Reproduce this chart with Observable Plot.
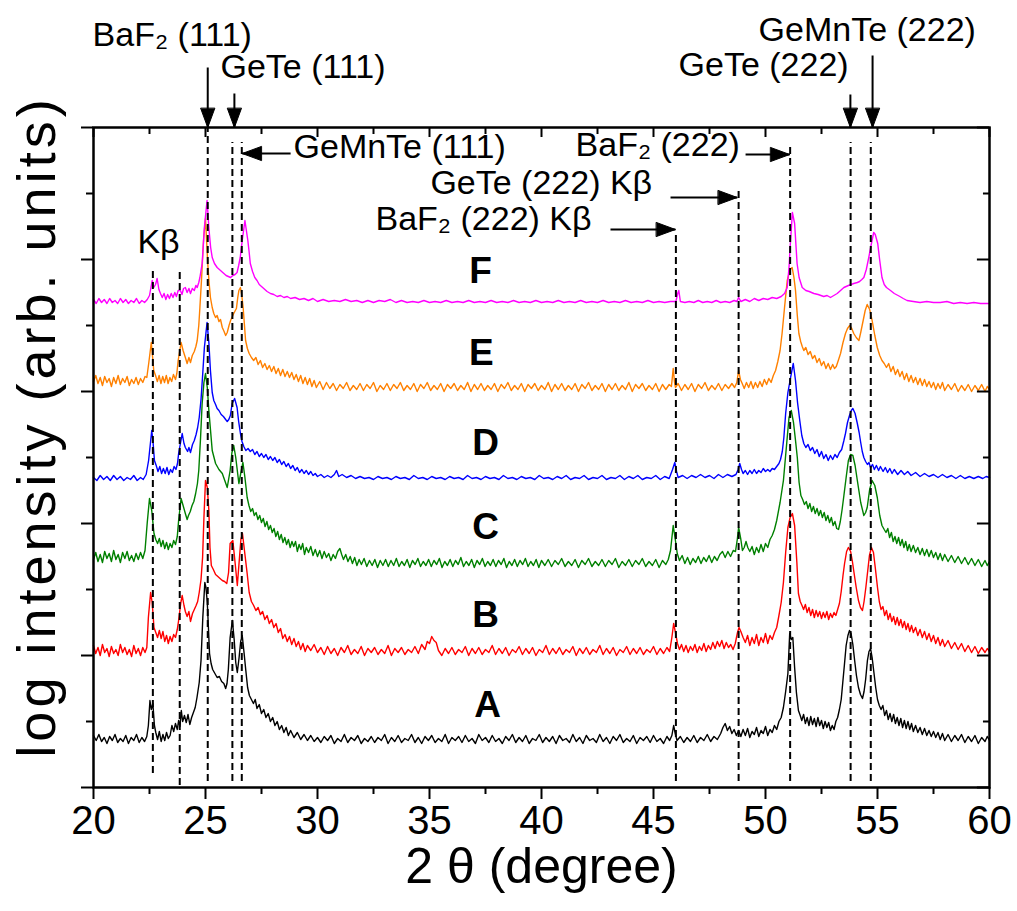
<!DOCTYPE html>
<html><head><meta charset="utf-8">
<script src="https://cdn.jsdelivr.net/npm/d3@7"></script>
<script src="https://cdn.jsdelivr.net/npm/@observablehq/plot@0.6"></script>
<style>body{margin:0;background:#fff;}</style>
</head><body><div id="chart"></div>
<script>
// ---- data (x = 2θ in degrees, y = log intensity, arbitrary offset units) ----
const xMajor = [20,25,30,35,40,45,50,55,60];
const xMinor = [22.5,27.5,32.5,37.5,42.5,47.5,52.5,57.5];
const yMajor = [0,132,264,396,528,660];
const yMinor = [66,198,330,462,594];

const sampleNames = ["A","B","C","D","E","F"];
const sampleColors = ["#000000","#ff0000","#008000","#0000ff","#ff8000","#ff00ff"];
const sampleLabelX = [37.59,37.5,37.5,37.5,37.32,37.28];
const sampleLabelY = [82,172,260,344,434,516];

const traceA = [[20.0,52],[20.12,47],[20.24,53],[20.36,46],[20.48,50],[20.6,44],[20.72,51],[20.84,47],[20.96,53],[21.08,45],[21.2,49],[21.32,46],[21.44,52],[21.56,44],[21.68,50],[21.8,47],[21.92,53],[22.04,45],[22.16,50],[22.28,46],[22.38,51],[22.45,62],[22.52,87],[22.58,78],[22.65,84],[22.72,62],[22.78,55],[22.86,48],[22.94,56],[23.02,46],[23.1,53],[23.18,47],[23.26,55],[23.34,49],[23.42,52],[23.5,62],[23.58,56],[23.66,64],[23.74,58],[23.8,67],[23.86,61],[23.92,77],[23.98,66],[24.06,72],[24.14,65],[24.22,73],[24.3,63],[24.38,70],[24.46,75],[24.54,80],[24.62,90],[24.72,105],[24.8,127],[24.88,170],[24.97,205],[25.02,200],[25.08,185],[25.13,160],[25.18,134],[25.25,124],[25.32,118],[25.42,114],[25.52,110],[25.62,111],[25.72,106],[25.82,104],[25.9,99],[25.96,104],[26.02,118],[26.1,150],[26.2,167],[26.28,148],[26.35,125],[26.42,115],[26.5,130],[26.57,146],[26.64,152],[26.72,135],[26.8,117],[26.88,100],[26.96,92],[27.05,88],[27.14,84],[27.22,88],[27.3,79],[27.4,83],[27.5,74],[27.6,78],[27.7,70],[27.8,74],[27.9,66],[28.0,70],[28.1,62],[28.2,66],[28.3,58],[28.4,62],[28.5,55],[28.6,60],[28.7,52],[28.8,57],[28.95,50],[29.1,55],[29.25,48],[29.4,53],[29.55,47],[29.7,52],[29.85,46],[30.0,50],[30.15,45],[30.3,51],[30.45,47],[30.6,52],[30.75,44],[30.9,49],[31.05,46],[31.2,53],[31.35,45],[31.5,50],[31.65,47],[31.8,52],[31.95,44],[32.1,49],[32.25,46],[32.4,51],[32.55,45],[32.7,50],[32.85,47],[33.0,53],[33.15,44],[33.3,50],[33.45,46],[33.6,52],[33.75,45],[33.9,49],[34.05,47],[34.2,53],[34.35,45],[34.5,50],[34.65,44],[34.8,51],[34.95,47],[35.1,52],[35.25,45],[35.4,49],[35.55,46],[35.7,53],[35.85,44],[36.0,50],[36.15,47],[36.3,51],[36.45,45],[36.6,52],[36.75,46],[36.9,49],[37.05,44],[37.2,53],[37.35,47],[37.5,50],[37.65,45],[37.8,52],[37.95,46],[38.1,49],[38.25,44],[38.4,51],[38.55,47],[38.7,53],[38.85,45],[39.0,50],[39.15,46],[39.3,52],[39.45,44],[39.6,49],[39.75,47],[39.9,53],[40.05,45],[40.2,50],[40.35,46],[40.5,51],[40.65,44],[40.8,52],[40.95,47],[41.1,49],[41.25,45],[41.4,53],[41.55,46],[41.7,50],[41.85,44],[42.0,52],[42.15,47],[42.3,49],[42.45,45],[42.6,53],[42.75,46],[42.9,50],[43.05,44],[43.2,51],[43.35,47],[43.5,53],[43.65,45],[43.8,49],[43.95,46],[44.1,52],[44.25,44],[44.4,50],[44.55,47],[44.7,51],[44.85,45],[45.0,52],[45.15,46],[45.3,49],[45.45,44],[45.6,51],[45.72,47],[45.82,52],[45.9,62],[45.97,54],[46.05,47],[46.2,51],[46.35,45],[46.5,50],[46.65,46],[46.8,52],[46.95,45],[47.1,50],[47.25,47],[47.4,53],[47.55,46],[47.7,51],[47.85,48],[48.0,54],[48.1,60],[48.2,64],[48.3,57],[48.4,61],[48.5,54],[48.6,58],[48.7,52],[48.8,57],[48.9,51],[49.0,58],[49.1,52],[49.2,59],[49.3,50],[49.4,56],[49.5,53],[49.6,60],[49.7,51],[49.8,57],[49.9,54],[50.0,61],[50.1,52],[50.2,58],[50.3,55],[50.4,62],[50.5,58],[50.6,66],[50.7,70],[50.8,80],[50.9,96],[51.0,114],[51.08,154],[51.15,148],[51.22,150],[51.3,120],[51.38,95],[51.47,77],[51.55,72],[51.62,67],[51.7,73],[51.78,64],[51.86,70],[51.94,62],[52.02,71],[52.1,63],[52.18,69],[52.26,61],[52.34,70],[52.42,62],[52.5,67],[52.58,59],[52.66,66],[52.74,60],[52.82,65],[52.9,57],[52.98,62],[53.06,58],[53.14,66],[53.22,70],[53.3,78],[53.38,88],[53.45,105],[53.52,122],[53.6,142],[53.68,152],[53.75,157],[53.82,154],[53.9,143],[53.98,127],[54.06,112],[54.15,100],[54.24,93],[54.33,89],[54.4,96],[54.47,108],[54.55,127],[54.62,136],[54.69,139],[54.76,130],[54.84,115],[54.92,100],[55.0,88],[55.08,82],[55.16,78],[55.24,82],[55.32,72],[55.4,77],[55.48,68],[55.56,74],[55.64,66],[55.72,73],[55.8,64],[55.88,70],[55.96,62],[56.04,69],[56.12,60],[56.2,67],[56.28,59],[56.36,66],[56.44,58],[56.52,64],[56.6,56],[56.7,62],[56.8,55],[56.9,60],[57.0,53],[57.1,59],[57.2,52],[57.3,57],[57.4,51],[57.5,56],[57.6,50],[57.7,55],[57.8,48],[57.9,54],[58.0,47],[58.15,53],[58.3,46],[58.45,52],[58.6,47],[58.75,53],[58.9,45],[59.05,51],[59.2,46],[59.35,52],[59.5,44],[59.65,50],[59.8,46],[59.9,51],[60.0,47]];

const traceB = [[20.0,142],[20.1,134],[20.2,140],[20.3,132],[20.4,143],[20.5,135],[20.6,139],[20.7,131],[20.8,141],[20.9,134],[21.0,138],[21.1,132],[21.2,143],[21.3,135],[21.4,140],[21.5,133],[21.6,138],[21.7,131],[21.8,142],[21.9,134],[22.0,139],[22.1,132],[22.2,140],[22.3,135],[22.38,140],[22.45,170],[22.55,195],[22.62,185],[22.7,160],[22.78,155],[22.86,150],[22.94,157],[23.02,149],[23.1,156],[23.18,146],[23.26,152],[23.34,144],[23.42,151],[23.5,146],[23.58,153],[23.66,150],[23.74,158],[23.8,167],[23.9,185],[23.96,192],[24.04,182],[24.1,176],[24.18,171],[24.26,176],[24.33,166],[24.42,174],[24.5,178],[24.58,182],[24.65,186],[24.72,195],[24.8,208],[24.87,230],[24.93,270],[25.0,307],[25.08,300],[25.15,277],[25.2,240],[25.26,222],[25.35,218],[25.45,213],[25.55,211],[25.65,209],[25.75,207],[25.85,206],[25.95,204],[26.03,215],[26.1,244],[26.22,247],[26.32,225],[26.42,202],[26.5,225],[26.58,248],[26.65,254],[26.75,235],[26.86,214],[26.95,195],[27.05,186],[27.15,182],[27.25,177],[27.35,180],[27.45,173],[27.55,176],[27.65,168],[27.75,172],[27.85,164],[27.95,168],[28.05,160],[28.15,164],[28.25,155],[28.35,159],[28.45,149],[28.55,153],[28.65,146],[28.75,151],[28.85,143],[28.95,149],[29.05,141],[29.15,146],[29.25,138],[29.35,144],[29.45,136],[29.55,142],[29.7,137],[29.85,143],[30.0,135],[30.15,140],[30.3,133],[30.45,141],[30.6,134],[30.75,139],[30.9,132],[31.05,140],[31.2,135],[31.35,142],[31.5,133],[31.65,138],[31.8,134],[31.95,141],[32.1,132],[32.25,139],[32.4,135],[32.55,140],[32.7,133],[32.85,138],[33.0,134],[33.15,142],[33.3,132],[33.45,139],[33.6,135],[33.75,140],[33.9,133],[34.05,138],[34.2,135],[34.35,141],[34.5,134],[34.65,143],[34.8,138],[34.9,146],[35.0,144],[35.1,151],[35.2,147],[35.3,145],[35.4,137],[35.55,132],[35.7,139],[35.85,134],[36.0,140],[36.15,133],[36.3,138],[36.45,135],[36.6,141],[36.75,132],[36.9,139],[37.05,134],[37.2,140],[37.35,133],[37.5,138],[37.65,135],[37.8,142],[37.95,133],[38.1,139],[38.25,134],[38.4,140],[38.55,132],[38.7,138],[38.85,135],[39.0,141],[39.15,133],[39.3,139],[39.45,134],[39.6,140],[39.75,132],[39.9,138],[40.05,135],[40.2,142],[40.35,133],[40.5,139],[40.65,134],[40.8,140],[40.95,133],[41.1,138],[41.25,135],[41.4,141],[41.55,132],[41.7,139],[41.85,134],[42.0,140],[42.15,133],[42.3,138],[42.45,135],[42.6,142],[42.75,133],[42.9,139],[43.05,134],[43.2,140],[43.35,132],[43.5,138],[43.65,135],[43.8,141],[43.95,133],[44.1,139],[44.25,134],[44.4,140],[44.55,133],[44.7,138],[44.85,135],[45.0,141],[45.15,133],[45.3,139],[45.45,134],[45.6,140],[45.72,136],[45.82,150],[45.9,164],[45.98,155],[46.07,144],[46.16,138],[46.25,143],[46.35,136],[46.45,142],[46.55,135],[46.65,141],[46.75,137],[46.85,143],[46.95,135],[47.05,141],[47.15,137],[47.25,144],[47.35,136],[47.45,142],[47.55,138],[47.65,145],[47.75,139],[47.85,146],[47.95,141],[48.05,147],[48.15,139],[48.25,145],[48.35,140],[48.45,143],[48.55,138],[48.65,144],[48.75,155],[48.82,160],[48.9,156],[49.0,150],[49.1,145],[49.2,152],[49.3,142],[49.4,150],[49.5,144],[49.6,153],[49.7,142],[49.8,150],[49.9,145],[50.0,154],[50.1,144],[50.2,152],[50.3,148],[50.4,155],[50.5,160],[50.6,172],[50.7,185],[50.8,205],[50.9,235],[51.0,260],[51.1,270],[51.2,274],[51.3,262],[51.4,225],[51.47,194],[51.55,186],[51.63,182],[51.7,178],[51.78,183],[51.86,175],[51.94,180],[52.02,172],[52.1,178],[52.18,170],[52.26,177],[52.34,171],[52.42,176],[52.5,169],[52.58,175],[52.66,170],[52.74,176],[52.82,168],[52.9,174],[52.98,170],[53.06,175],[53.14,172],[53.22,178],[53.3,184],[53.38,196],[53.46,212],[53.53,224],[53.62,236],[53.7,240],[53.8,236],[53.88,226],[53.95,215],[54.05,200],[54.15,187],[54.24,180],[54.33,177],[54.4,186],[54.48,200],[54.55,214],[54.64,232],[54.73,240],[54.82,235],[54.9,220],[55.0,200],[55.08,186],[55.16,178],[55.24,181],[55.32,172],[55.4,177],[55.48,168],[55.56,174],[55.64,166],[55.72,171],[55.8,163],[55.88,170],[55.96,162],[56.04,168],[56.12,160],[56.2,166],[56.28,158],[56.36,164],[56.44,156],[56.52,162],[56.6,155],[56.7,160],[56.8,152],[56.9,158],[57.0,150],[57.1,156],[57.2,148],[57.3,154],[57.4,146],[57.5,152],[57.6,144],[57.7,150],[57.8,142],[57.9,148],[58.0,141],[58.15,147],[58.3,139],[58.45,145],[58.6,138],[58.75,144],[58.9,136],[59.05,142],[59.2,135],[59.35,141],[59.5,134],[59.65,140],[59.8,135],[59.9,139],[60.0,136]];

const traceC = [[20.0,228],[20.1,235],[20.2,226],[20.3,233],[20.4,225],[20.5,236],[20.6,229],[20.7,234],[20.8,226],[20.9,237],[21.0,228],[21.1,233],[21.2,225],[21.3,235],[21.4,229],[21.5,236],[21.6,227],[21.7,232],[21.8,226],[21.9,234],[22.0,228],[22.1,235],[22.2,229],[22.3,237],[22.4,265],[22.5,289],[22.6,277],[22.7,254],[22.78,248],[22.86,244],[22.94,249],[23.02,241],[23.1,247],[23.18,239],[23.26,245],[23.34,238],[23.42,244],[23.5,240],[23.58,247],[23.66,243],[23.74,251],[23.8,267],[23.91,289],[24.0,282],[24.1,274],[24.18,268],[24.24,272],[24.32,276],[24.4,282],[24.48,286],[24.56,294],[24.64,304],[24.7,317],[24.78,350],[24.85,384],[24.93,405],[25.0,414],[25.08,400],[25.15,377],[25.3,337],[25.45,324],[25.6,318],[25.75,314],[25.97,300],[26.1,317],[26.18,335],[26.26,342],[26.35,330],[26.49,304],[26.58,315],[26.67,325],[26.76,310],[26.86,290],[26.94,282],[27.02,276],[27.1,279],[27.18,272],[27.26,275],[27.34,268],[27.42,272],[27.5,265],[27.58,269],[27.66,261],[27.74,266],[27.82,258],[27.9,262],[27.98,255],[28.06,259],[28.14,251],[28.22,256],[28.3,248],[28.38,253],[28.46,245],[28.54,250],[28.62,243],[28.7,248],[28.78,240],[28.86,246],[28.94,241],[29.02,246],[29.1,236],[29.18,243],[29.26,238],[29.34,244],[29.42,233],[29.5,240],[29.6,235],[29.7,241],[29.8,232],[29.9,238],[30.0,231],[30.1,237],[30.2,229],[30.3,236],[30.4,230],[30.5,234],[30.6,227],[30.7,233],[30.8,229],[30.9,236],[31.0,239],[31.08,233],[31.16,228],[31.26,233],[31.36,226],[31.46,231],[31.56,224],[31.66,230],[31.76,222],[31.86,228],[31.96,223],[32.08,229],[32.2,221],[32.32,227],[32.44,222],[32.56,228],[32.68,220],[32.8,227],[32.92,222],[33.04,228],[33.16,221],[33.28,227],[33.4,222],[33.52,229],[33.64,221],[33.76,226],[33.88,222],[34.0,228],[34.12,220],[34.24,227],[34.36,223],[34.48,229],[34.6,221],[34.72,226],[34.84,222],[34.96,228],[35.08,221],[35.2,227],[35.32,223],[35.44,229],[35.56,220],[35.68,226],[35.8,222],[35.92,228],[36.04,221],[36.16,227],[36.28,223],[36.4,230],[36.52,221],[36.64,226],[36.76,222],[36.88,228],[37.0,220],[37.12,227],[37.24,223],[37.36,229],[37.48,221],[37.6,226],[37.72,222],[37.84,228],[37.96,221],[38.08,227],[38.2,223],[38.32,229],[38.44,220],[38.56,226],[38.68,222],[38.8,228],[38.92,221],[39.04,227],[39.16,223],[39.28,229],[39.4,221],[39.52,226],[39.64,222],[39.76,228],[39.88,220],[40.0,227],[40.15,222],[40.3,228],[40.45,221],[40.6,227],[40.75,223],[40.9,229],[41.05,221],[41.2,226],[41.35,222],[41.5,228],[41.65,220],[41.8,227],[41.95,223],[42.1,229],[42.25,221],[42.4,226],[42.55,222],[42.7,228],[42.85,221],[43.0,227],[43.15,223],[43.3,229],[43.45,220],[43.6,226],[43.75,222],[43.9,228],[44.05,221],[44.2,227],[44.35,223],[44.5,229],[44.65,221],[44.8,226],[44.95,222],[45.1,228],[45.25,220],[45.4,227],[45.55,223],[45.66,228],[45.76,237],[45.88,262],[45.96,250],[46.06,234],[46.16,227],[46.28,232],[46.4,224],[46.52,230],[46.64,223],[46.76,229],[46.88,225],[47.0,231],[47.12,224],[47.24,230],[47.36,226],[47.48,232],[47.6,225],[47.72,231],[47.84,227],[47.96,233],[48.08,236],[48.2,230],[48.32,236],[48.44,231],[48.56,237],[48.66,236],[48.74,248],[48.8,260],[48.9,248],[48.97,237],[49.05,240],[49.13,246],[49.21,240],[49.3,236],[49.4,241],[49.5,233],[49.6,240],[49.7,235],[49.8,243],[49.9,236],[50.0,244],[50.1,240],[50.2,248],[50.3,252],[50.4,258],[50.5,267],[50.65,285],[50.8,307],[50.95,345],[51.05,370],[51.15,377],[51.25,365],[51.34,347],[51.42,330],[51.5,305],[51.58,292],[51.66,288],[51.74,283],[51.82,286],[51.9,279],[51.98,284],[52.06,276],[52.14,281],[52.22,274],[52.3,279],[52.38,272],[52.46,277],[52.54,270],[52.62,275],[52.7,267],[52.78,272],[52.86,265],[52.94,270],[53.02,262],[53.1,266],[53.18,259],[53.26,258],[53.34,266],[53.42,278],[53.5,292],[53.6,310],[53.7,327],[53.8,333],[53.9,332],[54.0,322],[54.1,307],[54.25,285],[54.39,272],[54.47,275],[54.54,280],[54.65,298],[54.76,307],[54.88,302],[54.99,290],[55.1,272],[55.2,262],[55.3,258],[55.38,255],[55.46,259],[55.54,250],[55.62,255],[55.7,246],[55.78,251],[55.86,244],[55.94,250],[56.02,242],[56.1,248],[56.18,240],[56.26,246],[56.34,237],[56.42,243],[56.5,236],[56.6,242],[56.7,235],[56.8,240],[56.9,233],[57.0,239],[57.1,232],[57.2,238],[57.3,231],[57.4,237],[57.5,230],[57.6,235],[57.7,228],[57.8,234],[57.9,227],[58.0,233],[58.15,226],[58.3,232],[58.45,225],[58.6,231],[58.75,224],[58.9,230],[59.05,223],[59.2,229],[59.35,222],[59.5,228],[59.65,221],[59.8,227],[59.9,222],[60.0,226]];

const traceD = [[20.0,310],[20.15,307],[20.3,312],[20.45,308],[20.6,311],[20.75,307],[20.9,312],[21.05,308],[21.2,311],[21.35,307],[21.5,310],[21.65,308],[21.8,312],[21.95,307],[22.1,310],[22.22,308],[22.35,313],[22.46,327],[22.6,357],[22.66,345],[22.72,327],[22.8,322],[22.88,316],[22.96,321],[23.04,314],[23.12,319],[23.2,314],[23.28,320],[23.36,313],[23.44,318],[23.52,315],[23.6,321],[23.68,318],[23.75,324],[23.8,334],[23.96,354],[24.04,344],[24.1,340],[24.2,336],[24.26,340],[24.33,335],[24.42,343],[24.5,347],[24.58,353],[24.65,360],[24.72,370],[24.8,388],[24.88,415],[24.95,440],[25.07,465],[25.15,445],[25.22,417],[25.3,395],[25.37,387],[25.45,383],[25.52,379],[25.6,377],[25.7,373],[25.8,371],[25.9,368],[25.97,366],[26.04,368],[26.11,372],[26.19,384],[26.3,389],[26.41,380],[26.48,366],[26.56,354],[26.63,346],[26.71,341],[26.8,337],[26.9,339],[27.0,336],[27.1,338],[27.2,333],[27.3,336],[27.4,331],[27.5,334],[27.6,330],[27.7,333],[27.8,328],[27.9,331],[28.0,327],[28.1,330],[28.2,325],[28.3,328],[28.4,323],[28.5,326],[28.6,321],[28.7,324],[28.8,319],[28.9,322],[29.0,317],[29.1,320],[29.2,315],[29.3,318],[29.4,314],[29.5,317],[29.6,313],[29.7,316],[29.8,312],[29.9,314],[30.0,311],[30.15,313],[30.3,310],[30.45,312],[30.6,310],[30.75,313],[30.85,317],[30.95,311],[31.1,313],[31.3,310],[31.5,312],[31.7,309],[31.9,311],[32.1,309],[32.3,310],[32.5,308],[32.7,311],[32.9,309],[33.1,310],[33.3,308],[33.5,311],[33.7,309],[33.9,310],[34.1,308],[34.3,312],[34.5,309],[34.7,310],[34.9,308],[35.1,311],[35.3,309],[35.5,310],[35.7,308],[35.9,311],[36.1,309],[36.3,310],[36.5,308],[36.7,312],[36.9,309],[37.1,310],[37.3,308],[37.5,311],[37.7,309],[37.9,310],[38.1,308],[38.3,312],[38.5,309],[38.7,310],[38.9,308],[39.1,311],[39.3,309],[39.5,310],[39.7,308],[39.9,312],[40.1,309],[40.3,310],[40.5,308],[40.7,311],[40.9,309],[41.1,312],[41.3,308],[41.5,310],[41.7,309],[41.9,312],[42.1,308],[42.3,310],[42.5,309],[42.7,312],[42.9,308],[43.1,310],[43.3,309],[43.5,312],[43.7,308],[43.9,311],[44.1,309],[44.3,312],[44.5,308],[44.7,310],[44.9,309],[45.1,312],[45.3,308],[45.5,311],[45.7,309],[45.85,318],[45.95,325],[46.03,316],[46.1,310],[46.3,312],[46.5,309],[46.7,312],[46.9,310],[47.1,313],[47.3,310],[47.5,312],[47.7,309],[47.9,313],[48.1,310],[48.3,313],[48.5,311],[48.68,313],[48.78,318],[48.85,324],[48.93,318],[49.0,314],[49.1,317],[49.2,313],[49.3,317],[49.4,314],[49.5,318],[49.6,314],[49.7,317],[49.8,315],[49.9,319],[50.0,316],[50.1,318],[50.2,316],[50.3,319],[50.4,318],[50.5,321],[50.6,324],[50.67,328],[50.75,336],[50.82,350],[50.9,374],[51.0,395],[51.12,410],[51.24,424],[51.34,407],[51.43,385],[51.53,367],[51.62,352],[51.71,344],[51.8,340],[51.9,343],[52.0,337],[52.1,340],[52.2,334],[52.3,338],[52.4,331],[52.5,336],[52.6,329],[52.7,333],[52.8,327],[52.9,332],[53.0,328],[53.1,333],[53.2,330],[53.3,335],[53.4,338],[53.5,347],[53.57,354],[53.66,365],[53.75,372],[53.83,377],[53.9,379],[54.0,374],[54.1,364],[54.18,355],[54.25,345],[54.32,336],[54.39,330],[54.47,326],[54.55,323],[54.62,325],[54.69,320],[54.78,323],[54.86,318],[54.95,322],[55.05,317],[55.13,321],[55.25,316],[55.35,320],[55.45,315],[55.55,319],[55.65,314],[55.75,318],[55.9,313],[56.05,317],[56.2,313],[56.35,316],[56.5,312],[56.7,315],[56.9,311],[57.1,314],[57.3,311],[57.5,313],[57.7,310],[57.9,313],[58.1,310],[58.3,312],[58.5,309],[58.7,312],[58.9,309],[59.1,311],[59.3,309],[59.5,311],[59.7,309],[59.85,311],[60.0,310]];

const traceE = [[20.0,406],[20.1,412],[20.2,404],[20.3,410],[20.4,402],[20.5,411],[20.6,405],[20.7,409],[20.8,401],[20.9,410],[21.0,404],[21.1,412],[21.2,403],[21.3,409],[21.4,405],[21.5,411],[21.6,402],[21.7,408],[21.8,404],[21.9,410],[22.0,403],[22.1,409],[22.2,405],[22.3,411],[22.38,410],[22.47,425],[22.58,445],[22.64,430],[22.69,417],[22.77,412],[22.85,406],[22.93,412],[23.01,404],[23.09,411],[23.17,405],[23.25,412],[23.33,404],[23.41,410],[23.49,406],[23.57,413],[23.66,408],[23.72,414],[23.78,427],[23.91,445],[24.0,437],[24.1,430],[24.18,424],[24.26,430],[24.33,425],[24.41,432],[24.5,436],[24.57,441],[24.63,447],[24.7,462],[24.75,480],[24.82,507],[24.92,550],[25.0,569],[25.1,524],[25.16,505],[25.22,490],[25.3,480],[25.37,474],[25.45,470],[25.52,472],[25.6,466],[25.67,468],[25.75,460],[25.83,456],[25.9,452],[25.97,455],[26.05,462],[26.12,467],[26.2,471],[26.26,474],[26.33,477],[26.38,479],[26.44,490],[26.49,497],[26.56,500],[26.62,492],[26.68,480],[26.74,462],[26.79,447],[26.87,439],[26.95,434],[27.05,430],[27.15,427],[27.25,430],[27.35,423],[27.45,427],[27.55,420],[27.65,424],[27.75,418],[27.85,422],[27.95,416],[28.05,421],[28.15,414],[28.25,419],[28.35,412],[28.45,418],[28.55,411],[28.65,416],[28.75,410],[28.85,415],[28.95,408],[29.05,413],[29.15,406],[29.25,412],[29.35,404],[29.45,410],[29.55,403],[29.65,409],[29.75,401],[29.85,407],[29.95,400],[30.1,406],[30.25,398],[30.4,405],[30.55,399],[30.7,404],[30.85,397],[31.0,403],[31.15,399],[31.3,405],[31.45,397],[31.6,402],[31.75,398],[31.9,404],[32.05,397],[32.2,403],[32.35,399],[32.5,405],[32.65,396],[32.8,402],[32.95,398],[33.1,404],[33.25,397],[33.4,403],[33.55,399],[33.7,405],[33.85,397],[34.0,402],[34.15,398],[34.3,404],[34.45,396],[34.6,403],[34.75,399],[34.9,405],[35.05,397],[35.2,402],[35.35,398],[35.5,404],[35.65,396],[35.8,403],[35.95,399],[36.1,404],[36.25,397],[36.4,402],[36.55,398],[36.7,405],[36.85,396],[37.0,403],[37.15,398],[37.3,404],[37.45,397],[37.6,402],[37.75,398],[37.9,404],[38.05,396],[38.2,403],[38.35,399],[38.5,405],[38.65,397],[38.8,402],[38.95,398],[39.1,404],[39.25,396],[39.4,403],[39.55,399],[39.7,404],[39.85,397],[40.0,402],[40.15,398],[40.3,405],[40.45,396],[40.6,403],[40.75,398],[40.9,404],[41.05,397],[41.2,402],[41.35,398],[41.5,404],[41.65,396],[41.8,403],[41.95,399],[42.1,405],[42.25,397],[42.4,402],[42.55,398],[42.7,404],[42.85,396],[43.0,403],[43.15,398],[43.3,404],[43.45,397],[43.6,402],[43.75,398],[43.9,405],[44.05,396],[44.2,403],[44.35,399],[44.5,404],[44.65,397],[44.8,402],[44.95,398],[45.1,404],[45.25,396],[45.4,403],[45.55,398],[45.7,403],[45.8,401],[45.88,419],[45.94,405],[45.98,400],[46.1,404],[46.25,397],[46.4,403],[46.55,398],[46.7,404],[46.85,396],[47.0,403],[47.15,399],[47.3,405],[47.45,397],[47.6,402],[47.75,398],[47.9,404],[48.05,397],[48.2,403],[48.35,399],[48.5,404],[48.62,400],[48.72,405],[48.8,417],[48.88,408],[48.96,404],[49.05,399],[49.15,405],[49.25,400],[49.35,406],[49.45,399],[49.55,405],[49.65,400],[49.75,406],[49.85,401],[49.95,408],[50.05,403],[50.15,409],[50.25,405],[50.35,412],[50.45,417],[50.55,426],[50.65,437],[50.74,454],[50.85,480],[50.97,507],[51.1,518],[51.19,520],[51.27,510],[51.34,497],[51.42,472],[51.49,454],[51.57,446],[51.64,441],[51.71,437],[51.8,440],[51.9,433],[52.0,436],[52.1,429],[52.2,432],[52.3,425],[52.4,429],[52.5,422],[52.6,426],[52.7,419],[52.8,424],[52.9,418],[53.0,423],[53.08,419],[53.16,421],[53.25,427],[53.35,434],[53.46,445],[53.57,454],[53.66,459],[53.76,462],[53.85,459],[53.94,454],[54.05,450],[54.17,447],[54.26,456],[54.36,467],[54.45,477],[54.54,483],[54.65,478],[54.76,467],[54.88,452],[54.99,440],[55.1,432],[55.2,427],[55.3,424],[55.4,420],[55.5,424],[55.6,416],[55.7,421],[55.8,413],[55.9,418],[56.0,411],[56.1,416],[56.2,408],[56.3,414],[56.4,406],[56.5,412],[56.6,405],[56.7,410],[56.8,403],[56.9,409],[57.0,402],[57.1,408],[57.2,401],[57.3,406],[57.4,400],[57.5,405],[57.6,398],[57.7,404],[57.8,399],[57.9,405],[58.0,397],[58.15,403],[58.3,398],[58.45,404],[58.6,396],[58.75,402],[58.9,397],[59.05,403],[59.2,396],[59.35,402],[59.5,397],[59.65,403],[59.8,396],[59.9,401],[60.0,398]];

const traceF = [[20.0,488],[20.12,484],[20.24,489],[20.36,485],[20.48,488],[20.6,484],[20.72,489],[20.84,485],[20.96,487],[21.08,484],[21.2,489],[21.32,485],[21.44,488],[21.56,484],[21.68,487],[21.8,485],[21.92,489],[22.04,484],[22.16,487],[22.28,485],[22.4,488],[22.5,492],[22.62,507],[22.69,500],[22.77,503],[22.84,509],[22.92,498],[22.99,494],[23.07,490],[23.15,494],[23.23,488],[23.31,493],[23.39,489],[23.47,494],[23.55,490],[23.63,495],[23.7,491],[23.78,497],[23.88,497],[23.95,493],[24.02,499],[24.1,500],[24.18,495],[24.26,499],[24.33,494],[24.41,499],[24.5,497],[24.57,502],[24.63,500],[24.7,505],[24.75,510],[24.85,524],[24.95,560],[25.07,587],[25.16,557],[25.23,540],[25.3,530],[25.4,524],[25.52,520],[25.62,518],[25.72,516],[25.82,514],[25.92,512],[26.02,511],[26.12,510],[26.22,512],[26.32,513],[26.41,515],[26.48,522],[26.55,530],[26.64,547],[26.76,567],[26.89,547],[26.95,535],[27.0,524],[27.1,516],[27.2,510],[27.3,507],[27.4,503],[27.5,501],[27.6,499],[27.75,496],[27.9,494],[28.05,493],[28.2,491],[28.35,492],[28.5,490],[28.65,491],[28.8,489],[29.0,490],[29.2,488],[29.4,489],[29.6,487],[29.8,489],[30.0,486],[30.25,488],[30.5,486],[30.75,487],[31.0,486],[31.25,488],[31.5,486],[31.75,487],[32.0,485],[32.25,487],[32.5,485],[32.75,487],[33.0,486],[33.25,488],[33.5,485],[33.75,487],[34.0,485],[34.25,486],[34.5,485],[34.75,487],[35.0,485],[35.25,486],[35.5,485],[35.75,487],[36.0,485],[36.25,486],[36.5,485],[36.75,487],[37.0,485],[37.25,486],[37.5,485],[37.75,487],[38.0,485],[38.25,486],[38.5,485],[38.75,487],[39.0,485],[39.25,486],[39.5,485],[39.75,487],[40.0,485],[40.25,486],[40.5,485],[40.75,487],[41.0,485],[41.25,486],[41.5,485],[41.75,487],[42.0,485],[42.25,486],[42.5,485],[42.75,487],[43.0,485],[43.25,486],[43.5,485],[43.75,487],[44.0,485],[44.25,486],[44.5,485],[44.75,487],[45.0,485],[45.25,486],[45.5,485],[45.75,486],[46.0,486],[46.08,494],[46.13,497],[46.2,486],[46.4,485],[46.6,486],[46.8,485],[47.0,487],[47.2,485],[47.4,486],[47.6,485],[47.8,487],[48.0,485],[48.2,486],[48.4,485],[48.6,487],[48.72,486],[48.8,490],[48.9,486],[49.1,488],[49.3,486],[49.5,489],[49.7,487],[49.9,489],[50.1,488],[50.3,490],[50.5,489],[50.7,491],[50.85,494],[50.97,500],[51.05,520],[51.1,540],[51.2,575],[51.3,564],[51.41,524],[51.5,510],[51.64,500],[51.8,497],[51.95,496],[52.16,494],[52.35,493],[52.6,491],[52.75,492],[52.9,490],[53.05,492],[53.2,494],[53.35,497],[53.5,500],[53.7,502],[53.94,504],[54.1,505],[54.2,506],[54.3,508],[54.39,510],[54.5,518],[54.61,530],[54.72,543],[54.83,555],[54.9,553],[55.01,544],[55.1,527],[55.2,510],[55.3,503],[55.4,500],[55.58,497],[55.75,494],[56.0,491],[56.15,489],[56.32,487],[56.6,486],[56.9,485],[57.2,486],[57.5,485],[57.8,485],[58.1,486],[58.4,484],[58.7,485],[59.0,484],[59.3,485],[59.6,484],[60.0,484]];

// reference (dashed) lines
const refX    = [22.65,23.85,25.1,26.2,26.62,46.0,48.8,51.1,53.8,54.7];
const refTop  = [519,519,660,645,645,555,599,643,645,645];
const refBot  = [14,2,6,6,6,6,6,6,6,6];

// annotations
const annotText = ["BaF\u2082 (111)","GeTe (111)","GeMnTe (111)","BaF\u2082 (222)","GeTe (222) K\u03b2","BaF\u2082 (222) K\u03b2","GeTe (222)","GeMnTe (222)","K\u03b2"];
const annotX = [19.96,25.67,28.93,41.52,35.04,32.59,46.12,49.69,21.96];
const annotY = [752,720,640,642,604,568,722,757,545];

const arrowX1 = [25.1,26.29,28.8,49.11,45.76,43.08,53.79,54.78];
const arrowY1 = [720,694,634,633,590,558,693,732];
const arrowX2 = [25.1,26.29,26.64,51.08,48.74,45.98,53.79,54.78];
const arrowY2 = [660,660,634,633,590,558,660,660];

// ---- build tables ----
const traces = [traceA,traceB,traceC,traceD,traceE,traceF];
const rows = traces.flatMap((t,i) => t.map(([x,y]) => ({x, y, s: sampleNames[i]})));
const refs = refX.map((x,i) => ({x, y1: refBot[i], y2: refTop[i]}));
const annots = annotText.map((t,i) => ({t, x: annotX[i], y: annotY[i]}));
const arrows = arrowX1.map((x1,i) => ({x1, y1: arrowY1[i], x2: arrowX2[i], y2: arrowY2[i],
  angle: arrowX1[i] === arrowX2[i] ? 180 : (arrowX2[i] > arrowX1[i] ? 90 : -90)}));
const sampleLabels = sampleNames.map((n,i) => ({n, x: sampleLabelX[i], y: sampleLabelY[i]}));

const head = {draw(ctx, l) { ctx.moveTo(-7, 0); ctx.lineTo(0, -l); ctx.lineTo(7, 0); ctx.closePath(); }};
const font = "'Liberation Sans', Arial, Helvetica, sans-serif";

const chart = Plot.plot({
  width: 1017, height: 911,
  marginLeft: 93, marginRight: 28, marginTop: 127, marginBottom: 124,
  style: {fontFamily: font, background: "white", color: "black", overflow: "visible"},
  x: {domain: [20, 60]},
  y: {domain: [0, 660]},
  color: {domain: sampleNames, range: sampleColors},
  marks: [
    Plot.line(rows, {x: "x", y: "y", z: "s", stroke: "s", strokeWidth: 1.4, strokeLinejoin: "round"}),
    Plot.ruleX(refs, {x: "x", y1: "y1", y2: "y2", stroke: "black", strokeWidth: 2, strokeDasharray: "7,4"}),
    Plot.text(sampleLabels, {x: "x", y: "y", text: "n", fontSize: 37, fontWeight: "bold", fill: "black"}),
    Plot.text(annots, {x: "x", y: "y", text: "t", textAnchor: "start", fontSize: 34, fill: "black"}),
    Plot.link(arrows, {x1: "x1", y1: "y1", x2: "x2", y2: "y2", stroke: "black", strokeWidth: 2}),
    Plot.vector(arrows, {x: "x2", y: "y2", rotate: "angle", length: 19, anchor: "end", shape: head, fill: "black", stroke: "black", strokeWidth: 1}),
    // axes
    Plot.axisX({ticks: xMajor, tickSize: 12, tickPadding: 6, tickFormat: d => String(d), fontSize: 40, label: null, strokeWidth: 2}),
    Plot.axisX({ticks: xMinor, tickSize: 7, tickFormat: () => "", label: null, strokeWidth: 2}),
    Plot.axisY({ticks: yMajor, tickSize: 12, tickFormat: () => "", label: null, strokeWidth: 2}),
    Plot.axisY({ticks: yMinor, tickSize: 7, tickFormat: () => "", label: null, strokeWidth: 2}),
    Plot.ruleX(xMajor, {x: d => d, y1: 650, y2: 660, stroke: "black", strokeWidth: 2}),
    Plot.ruleX(xMinor, {x: d => d, y1: 653, y2: 660, stroke: "black", strokeWidth: 2}),
    Plot.ruleY(yMajor, {y: d => d, x1: 59.46, x2: 60, stroke: "black", strokeWidth: 2}),
    Plot.ruleY(yMinor, {y: d => d, x1: 59.73, x2: 60, stroke: "black", strokeWidth: 2}),
    Plot.frame({stroke: "black", strokeWidth: 2.5}),
    Plot.text(["2 \u03b8 (degree)"], {frameAnchor: "bottom", dy: 95, text: d => d, fontSize: 50, fill: "black"}),
    Plot.text(["log intensity (arb. units)"], {frameAnchor: "left", textAnchor: "middle", dx: -56, dy: -31, rotate: -90, text: d => d, fontSize: 54, fill: "black", className: "ylab"})
  ]
});
chart.querySelectorAll(".ylab text").forEach(t => { t.style.letterSpacing = "4px"; });
document.getElementById("chart").appendChild(chart);
</script></body></html>
